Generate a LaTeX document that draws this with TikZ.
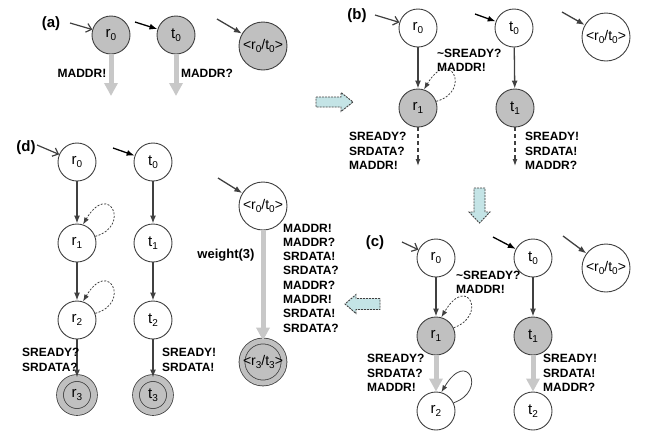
\documentclass[tikz,border=0pt]{standalone}
\usepackage{fontspec}
\setmainfont{Liberation Sans}
\usetikzlibrary{arrows.meta}
\definecolor{dk}{HTML}{404040}
\definecolor{nodegray}{HTML}{C0C0C0}
\definecolor{paleg}{HTML}{C8C8C8}
\definecolor{cyanfill}{HTML}{C4E4E6}
% lowered index for state names
\newcommand\lsub[1]{\raisebox{-3.5pt}{\fontsize{10}{10}\selectfont #1}}
\newcommand\pair[2]{<r\lsub{#1}/t\lsub{#2}>}

\begin{document}
\begin{tikzpicture}[x=1pt,y=-1pt,
  st/.style={circle, draw=dk, line width=0.9pt, minimum size=38pt, inner sep=0pt,
             fill=white, font=\fontsize{15}{15}\selectfont},
  act/.style={st, fill=nodegray},
  fin/.style={st, fill=nodegray, minimum size=34pt, double=nodegray,
              double distance=6pt, line width=0.8pt},
  prod/.style={st, minimum size=48pt, font=\fontsize{14}{14}\selectfont},
  prodfin/.style={prod, fill=nodegray, minimum size=38pt, double=nodegray,
              double distance=5pt, line width=0.8pt},
  arr/.style={draw=dk, line width=1.3pt, -{Latex[length=8pt,width=6pt]}},
  garr/.style={draw=paleg, line width=5pt, -{Triangle[length=13pt,width=13pt]}},
  darr/.style={draw=dk, line width=1.2pt, dash pattern=on 4pt off 3pt,
               -{Latex[length=7pt,width=5pt]}},
  loopd/.style={draw=dk, line width=0.8pt, dash pattern=on 2pt off 1.5pt,
                -{Latex[length=7pt,width=5pt]}},
  loops/.style={draw=dk, line width=0.8pt, -{Latex[length=7pt,width=5pt]}},
  inr/.style={draw=dk, line width=1.2pt, -{Straight Barb[length=5pt,width=9pt]}},
  int/.style={draw=black, line width=1.3pt, -{Latex[length=8pt,width=6pt]}},
  inp/.style={draw=dk, line width=1.3pt, -{Latex[length=8pt,width=6pt]}},
  lab/.style={font=\bfseries\fontsize{12}{14.3}\selectfont, align=left,
              inner sep=0pt, anchor=west},
  tag/.style={font=\bfseries\fontsize{15}{15}\selectfont, inner sep=0pt},
  blk/.style={draw=dk, line width=0.9pt, dash pattern=on 2pt off 1pt, fill=cyanfill}
]
\useasboundingbox (0,0) rectangle (654,432);

% ---------------- (a) ----------------
\node[tag] (ta) at (51,24) {(a)};
\node[act] (r0a) at (111,35) {r\lsub{0}};
\node[act] (t0a) at (176,35) {t\lsub{0}};
\node[prod, fill=nodegray] (p0a) at (263,46) {\pair00};
\coordinate (ir0a) at (70,23);
\coordinate (it0a) at (135,22);
\coordinate (ip0a) at (217,19);
\draw[inr] (ir0a) -- (r0a);
\draw[int] (it0a) -- (t0a);
\draw[inp] (ip0a) -- (p0a);
\coordinate (er0a) at (111,96);
\coordinate (et0a) at (176,96);
\draw[garr] (r0a) -- (er0a);
\draw[garr] (t0a) -- (et0a);
\node[lab, anchor=center] (la1) at (82,73) {MADDR!};
\node[lab, anchor=center] (la2) at (207,73) {MADDR?};

% ---------------- (b) ----------------
\node[tag] (tb) at (357,16) {(b)};
\node[st] (r0b) at (418,28) {r\lsub{0}};
\node[st] (t0b) at (514,28) {t\lsub{0}};
\node[prod] (p0b) at (606,37) {\pair00};
\node[act] (r1b) at (418,108) {r\lsub{1}};
\node[act] (t1b) at (515,108) {t\lsub{1}};
\coordinate (ir0b) at (375,15);
\coordinate (it0b) at (475,14);
\coordinate (ip0b) at (562,12);
\draw[inr] (ir0b) -- (r0b);
\draw[int] (it0b) -- (t0b);
\draw[inp] (ip0b) -- (p0b);
\draw[arr] (r0b) -- (r1b);
\draw[arr] (t0b) -- (t1b);
\draw[loopd] (r1b.20) .. controls +(36,-10) and +(26,-44) .. (r1b.72);
\coordinate (er1b) at (418,166);
\coordinate (et1b) at (515,166);
\draw[darr] (r1b) -- (er1b);
\draw[darr] (t1b) -- (et1b);
\node[lab] (lb1) at (437,60.5) {\textasciitilde SREADY?\\MADDR!};
\node[lab] (lb2) at (349,151) {SREADY?\\SRDATA?\\MADDR!};
\node[lab] (lb3) at (525,151) {SREADY!\\SRDATA!\\MADDR?};

% ---------------- (c) ----------------
\node[tag] (tc) at (375,243) {(c)};
\node[st] (r0c) at (436,258) {r\lsub{0}};
\node[st] (t0c) at (533,258) {t\lsub{0}};
\node[prod] (p0c) at (606,268) {\pair00};
\node[act] (r1c) at (436,336) {r\lsub{1}};
\node[act] (t1c) at (533,336) {t\lsub{1}};
\node[st] (r2c) at (436,411) {r\lsub{2}};
\node[st] (t2c) at (533,411) {t\lsub{2}};
\coordinate (ir0c) at (402,242);
\coordinate (it0c) at (493,237);
\coordinate (ip0c) at (563,236);
\draw[inr] (ir0c) -- (r0c);
\draw[int] (it0c) -- (t0c);
\draw[inp] (ip0c) -- (p0c);
\draw[arr] (r0c) -- (r1c);
\draw[arr] (t0c) -- (t1c);
\draw[loopd] (r1c.25) .. controls +(34,-12) and +(26,-44) .. (r1c.74);
\draw[garr] (r1c) -- (r2c);
\draw[garr] (t1c) -- (t2c);
\draw[loops] (r2c.25) .. controls +(34,-12) and +(26,-44) .. (r2c.74);
\node[lab] (lc1) at (456,282.5) {\textasciitilde SREADY?\\MADDR!};
\node[lab] (lc2) at (367,373) {SREADY?\\SRDATA?\\MADDR!};
\node[lab] (lc3) at (543,373) {SREADY!\\SRDATA!\\MADDR?};

% ---------------- (d) ----------------
\node[tag] (td) at (26,148) {(d)};
\node[st] (r0d) at (77,162) {r\lsub{0}};
\node[st] (t0d) at (153,162) {t\lsub{0}};
\node[st] (r1d) at (77,243) {r\lsub{1}};
\node[st] (t1d) at (153,243) {t\lsub{1}};
\node[st] (r2d) at (77,320) {r\lsub{2}};
\node[st] (t2d) at (153,320) {t\lsub{2}};
\node[fin] (r3d) at (77,395) {r\lsub{3}};
\node[fin] (t3d) at (153,395) {t\lsub{3}};
\node[prod] (p0d) at (263,206) {\pair00};
\node[prodfin] (p3d) at (263,362) {\pair33};
\coordinate (ir0d) at (37,145);
\coordinate (it0d) at (113,148);
\coordinate (ip0d) at (218,178);
\draw[inr] (ir0d) -- (r0d);
\draw[int] (it0d) -- (t0d);
\draw[inp] (ip0d) -- (p0d);
\draw[arr] (r0d) -- (r1d);
\draw[arr] (r1d) -- (r2d);
\draw[arr] (r2d) -- (r3d);
\draw[arr] (t0d) -- (t1d);
\draw[arr] (t1d) -- (t2d);
\draw[arr] (t2d) -- (t3d);
\draw[loopd] (r1d.20) .. controls +(36,-10) and +(26,-44) .. (r1d.72);
\draw[loopd] (r2d.20) .. controls +(36,-10) and +(26,-44) .. (r2d.72);
\draw[garr] (p0d) -- (p3d);
\node[lab] (ld1) at (22,360) {SREADY?\\SRDATA?};
\node[lab] (ld2) at (162,360) {SREADY!\\SRDATA!};
\node[lab, anchor=center, font=\bfseries\fontsize{13}{13}\selectfont] (lw) at (226,255) {weight(3)};
\node[lab] (ld3) at (283,278) {MADDR!\\MADDR?\\SRDATA!\\SRDATA?\\MADDR?\\MADDR!\\SRDATA!\\SRDATA?};

% ---------------- steps between the panels ----------------
\draw[blk] (316,97) -- (341,97) -- (341,92.5) -- (353,102) -- (341,111.5)
           -- (341,107) -- (316,107) -- cycle;
\draw[blk] (474,188) -- (485,188) -- (485,212) -- (490,212) -- (479.5,223)
           -- (469,212) -- (474,212) -- cycle;
\draw[blk] (380,298.5) -- (356,298.5) -- (356,294.5) -- (345,304) -- (356,313.5)
           -- (356,309.5) -- (380,309.5) -- cycle;
\end{tikzpicture}
\end{document}
